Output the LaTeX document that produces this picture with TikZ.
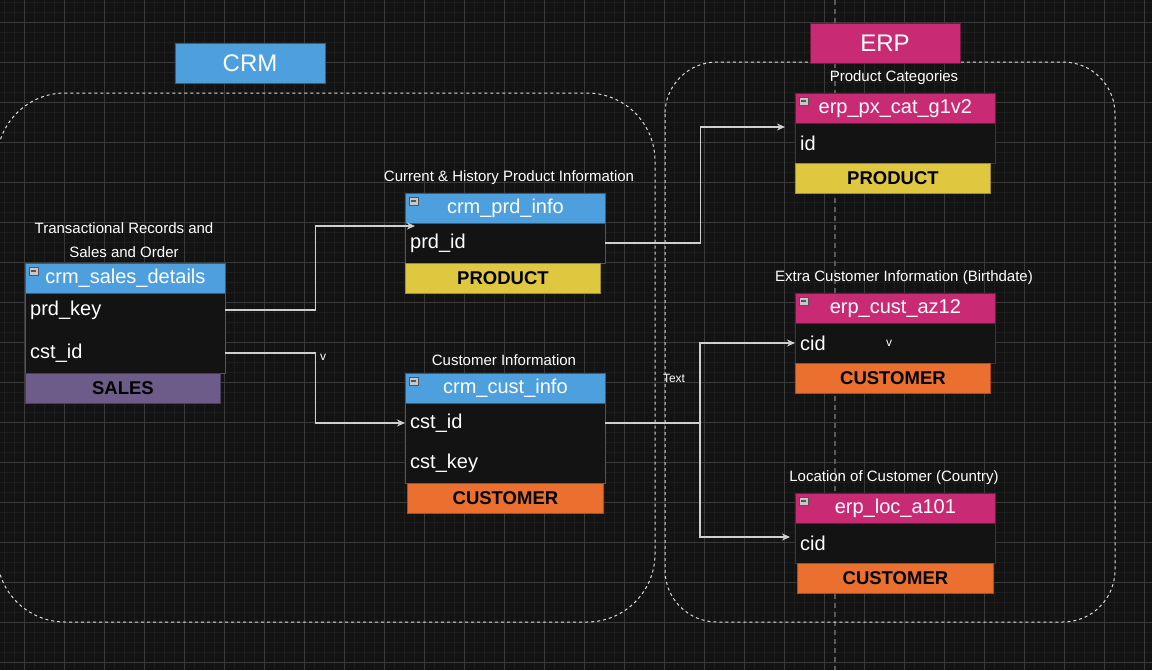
\documentclass[tikz,border=0pt]{standalone}
\usepackage{fontspec}
\setmainfont{Liberation Sans}
\usetikzlibrary{arrows.meta}
\definecolor{bg}{HTML}{131313}
\definecolor{gridminor}{HTML}{1D1D1D}
\definecolor{gridmajor}{HTML}{3A3A3A}
\definecolor{crmblue}{HTML}{4D9FDE}
\definecolor{crmborder}{HTML}{2C5F8E}
\definecolor{erpmag}{HTML}{C92A74}
\definecolor{erpborder}{HTML}{6E1A40}
\definecolor{prodyellow}{HTML}{DFC73F}
\definecolor{yellowborder}{HTML}{A08E2C}
\definecolor{custorange}{HTML}{EB702F}
\definecolor{orangeborder}{HTML}{B5481C}
\definecolor{salespurple}{HTML}{6D5B89}
\definecolor{purpleborder}{HTML}{4B3D63}
\definecolor{linkgray}{HTML}{CFCFCF}
\definecolor{dashwhite}{HTML}{DADADA}
\definecolor{pagegray}{HTML}{5A5A5A}
\definecolor{iconfill}{HTML}{C8C8C8}
\definecolor{icondark}{HTML}{555555}
\newcommand{\hdrfont}{\fontsize{20}{24}\selectfont}
\newcommand{\rowfont}{\fontsize{20}{24}\selectfont}
\newcommand{\tagfont}{\fontsize{18.5}{22}\selectfont\bfseries}
\newcommand{\capfont}{\fontsize{15}{24}\selectfont}
\newcommand{\smallfont}{\fontsize{12}{14}\selectfont}
\newcommand{\bigfont}{\fontsize{24}{28}\selectfont}
\begin{document}
\begin{tikzpicture}[x=1pt,y=-1pt,
  titlebox/.style={minimum width=150pt, minimum height=40pt, inner sep=0pt, text=white, font=\bigfont, line width=0.8pt},
  hdr/.style={anchor=north west, minimum width=200pt, minimum height=30pt, inner sep=0pt, text=white, font=\hdrfont, line width=0.8pt},
  crmhdr/.style={hdr, fill=crmblue, draw=crmborder},
  erphdr/.style={hdr, fill=erpmag, draw=erpborder},
  body/.style={anchor=north west, minimum width=200pt, inner sep=0pt, line width=0.9pt, fill=bg},
  crmbody/.style={body, draw=crmborder},
  erpbody/.style={body, draw=erpborder},
  tagbox/.style={anchor=north west, minimum width=195pt, minimum height=30pt, inner sep=0pt, text=black, font=\tagfont, line width=0.9pt},
  rowtxt/.style={anchor=west, text width=190pt, inner xsep=5pt, inner ysep=0pt, align=left, font=\rowfont, text=white},
  captxt/.style={text=white, font=\capfont, align=center, inner sep=0pt},
  smalltxt/.style={text=white, font=\smallfont, inner sep=0pt},
  link/.style={draw=linkgray, line width=1.3pt},
  linkarrow/.style={link, -{Stealth[length=8pt,width=7pt,inset=2.5pt,fill=linkgray]}},
  minusicon/.pic={\draw[fill=iconfill, draw=icondark, line width=0.5pt] (0,0) rectangle (9,8); \draw[icondark, line width=1.5pt] (2,4) -- (7,4);}
]
% background and grid
\fill[bg] (0,0) rectangle (1152,670);
\useasboundingbox (0,0) rectangle (1152,670);
\foreach \x in {4.5,14.5,...,1152} \draw[gridminor, line width=0.8pt] (\x,0) -- (\x,670);
\foreach \y in {2.5,12.5,...,670} \draw[gridminor, line width=0.8pt] (0,\y) -- (1152,\y);
\foreach \x in {24.5,64.5,...,1152} \draw[gridmajor, line width=0.9pt] (\x,0) -- (\x,670);
\foreach \y in {22.5,62.5,...,670} \draw[gridmajor, line width=0.9pt] (0,\y) -- (1152,\y);
% page break line
\draw[pagegray, dash pattern=on 5pt off 4pt, line width=1.2pt] (835,0) -- (835,670);
% containers
\draw[dashwhite, dash pattern=on 3pt off 3pt, line width=1pt, rounded corners=68pt] (-3,93) rectangle (655,622);
\draw[dashwhite, dash pattern=on 3pt off 3pt, line width=1pt, rounded corners=52pt] (665,62) rectangle (1115,622);
% titles
\node[titlebox, fill=crmblue, draw=crmborder] (crm) at (250,63) {CRM};
\node[titlebox, fill=erpmag, draw=erpborder] (erp) at (885,43) {ERP};

% crm_sales_details
\node[captxt] (sdcap) at (124,240) {Transactional Records and\\Sales and Order};
\node[crmhdr] (sdh) at (25,263) {crm\_sales\_details};
\node[crmbody, minimum height=80pt] (sdb) at (25,293) {};
\node[tagbox, fill=salespurple, draw=purpleborder] (sdt) at (25,373) {SALES};
\node[rowtxt] (sdprd) at (25,310) {prd\_key};
\node[rowtxt] (sdcst) at (25,353) {cst\_id};
\pic at ([xshift=4pt,yshift=-4pt]sdh.north west) {minusicon};

% crm_prd_info
\node[captxt] (picap) at (509,178) {Current \& History Product Information};
\node[crmhdr] (pih) at (405,193) {crm\_prd\_info};
\node[crmbody, minimum height=40pt] (pib) at (405,223) {};
\node[tagbox, fill=prodyellow, draw=yellowborder] (pit) at (405,263) {PRODUCT};
\node[rowtxt] (piprd) at (405,243) {prd\_id};
\coordinate (piin) at (415,226);
\pic at ([xshift=4pt,yshift=-4pt]pih.north west) {minusicon};

% crm_cust_info
\node[captxt] (cccap) at (504,360) {Customer Information};
\node[crmhdr] (cch) at (405,373) {crm\_cust\_info};
\node[crmbody, minimum height=80pt] (ccb) at (405,403) {};
\node[tagbox, minimum width=196pt, fill=custorange, draw=orangeborder] (cct) at (407,483) {CUSTOMER};
\node[rowtxt] (cccst) at (405,423) {cst\_id};
\node[rowtxt] (cckey) at (405,463) {cst\_key};
\pic at ([xshift=4pt,yshift=-4pt]cch.north west) {minusicon};

% erp_px_cat_g1v2
\node[captxt] (pccap) at (894,78) {Product Categories};
\node[erphdr] (pch) at (795,93) {erp\_px\_cat\_g1v2};
\node[erpbody, minimum height=40pt] (pcb) at (795,123) {};
\node[tagbox, fill=prodyellow, draw=yellowborder] (pct) at (795,163) {PRODUCT};
\node[rowtxt] (pcid) at (795,143) {id};
\coordinate (pcin) at (785,127);
\pic at ([xshift=4pt,yshift=-4pt]pch.north west) {minusicon};

% erp_cust_az12
\node[captxt] (azcap) at (904,278) {Extra Customer Information (Birthdate)};
\node[erphdr] (azh) at (795,293) {erp\_cust\_az12};
\node[erpbody, minimum height=40pt] (azb) at (795,323) {};
\node[tagbox, fill=custorange, draw=orangeborder] (azt) at (795,363) {CUSTOMER};
\node[rowtxt] (azcid) at (795,343) {cid};
\node[smalltxt] (azv) at (889,343) {v};
\pic at ([xshift=4pt,yshift=-4pt]azh.north west) {minusicon};

% erp_loc_a101
\node[captxt] (lccap) at (894,478) {Location of Customer (Country)};
\node[erphdr] (lch) at (795,493) {erp\_loc\_a101};
\node[erpbody, minimum height=40pt] (lcb) at (795,523) {};
\node[tagbox, minimum width=196pt, fill=custorange, draw=orangeborder] (lct) at (797,563) {CUSTOMER};
\node[rowtxt] (lccid) at (795,543) {cid};
\coordinate (lcin) at (790,537);
\pic at ([xshift=4pt,yshift=-4pt]lch.north west) {minusicon};

% connectors
\draw[linkarrow] (sdprd.east) -- ++(90,0) |- (piin);
\draw[linkarrow] (sdcst.east) -- ++(90,0) |- (cccst.west);
\node[smalltxt] (vlab) at (323,357) {v};
\draw[linkarrow] (piprd.east) -- ++(95,0) |- (pcin);
\coordinate (junc) at (700,423);
\draw[link] (cccst.east) -- (junc);
\draw[linkarrow] (junc) |- (azcid.west);
\draw[linkarrow] (junc) |- (lcin);
\node[smalltxt] (textlab) at (674,378) {Text};
\end{tikzpicture}
\end{document}
